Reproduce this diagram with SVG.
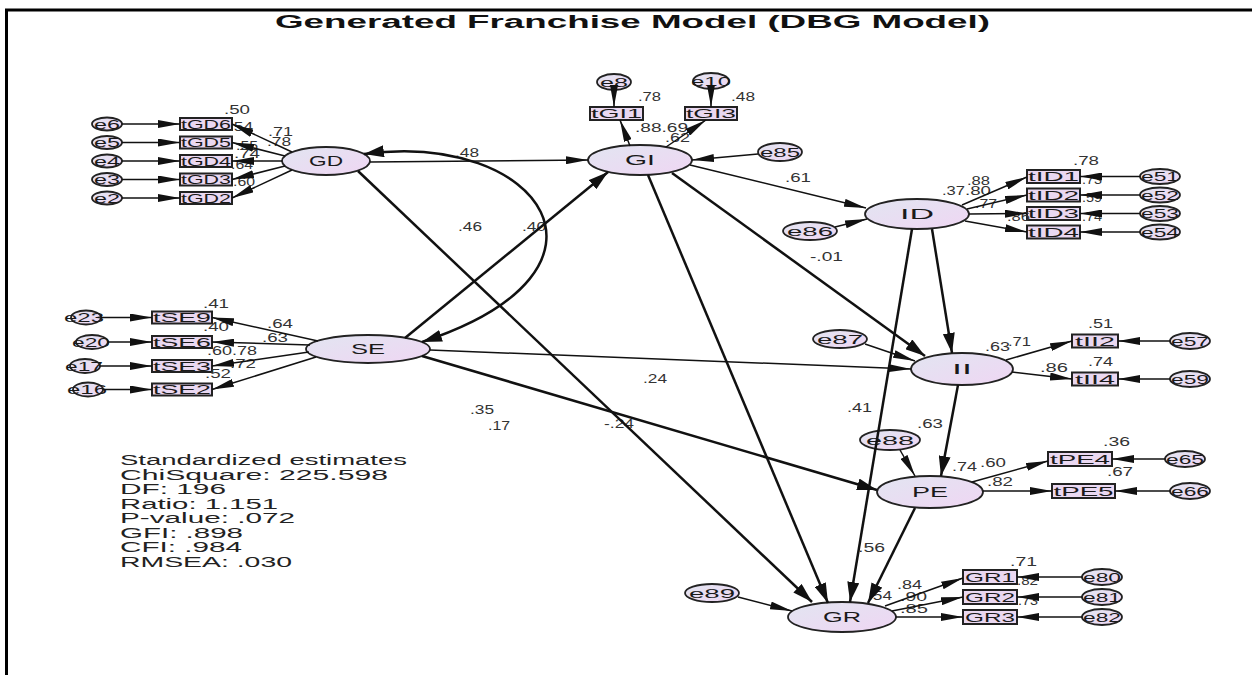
<svg xmlns="http://www.w3.org/2000/svg" width="1252" height="675" viewBox="0 0 1252 675">
<defs>
  <linearGradient id="lav" x1="0" y1="0" x2="1" y2="1">
    <stop offset="0" stop-color="#e2e5f1"/>
    <stop offset="1" stop-color="#efd6f3"/>
  </linearGradient>
  <marker id="ha" viewBox="0 0 22 8" refX="22" refY="4" markerWidth="22" markerHeight="8" markerUnits="userSpaceOnUse" orient="auto">
    <path d="M0,0 L22,4 L0,8 z" fill="#111"/>
  </marker>
  <marker id="hb" viewBox="0 0 20 12" refX="20" refY="6" markerWidth="20" markerHeight="12" markerUnits="userSpaceOnUse" orient="auto">
    <path d="M0,0 L20,6 L0,12 z" fill="#111"/>
  </marker>
  <marker id="hc" viewBox="0 0 20 12" refX="20" refY="6" markerWidth="20" markerHeight="12" markerUnits="userSpaceOnUse" orient="auto-start-reverse">
    <path d="M0,0 L20,6 L0,12 z" fill="#111"/>
  </marker>
</defs>
<style>
  .lat { fill: url(#lav); stroke: #222; stroke-width: 1.8; }
  .err { fill: url(#lav); stroke: #222; stroke-width: 1.8; }
  .obs { fill: #ead8f1; stroke: #222; stroke-width: 2; }
  text { font-family: "Liberation Sans", Arial, sans-serif; fill: #1a1a1a; }
  .nl { font-size: 15px; text-anchor: middle; }
  .el { font-size: 12px; text-anchor: middle; }
  .bl { font-size: 13px; text-anchor: middle; }
  .lb { font-size: 12px; fill: #333; }
  .st { font-size: 14px; fill: #222; }
  .ttl { font-size: 18px; font-weight: bold; fill: #111; }
  .thin { stroke: #111; stroke-width: 1.5; fill: none; marker-end: url(#ha); }
  .thick { stroke: #111; stroke-width: 2.5; fill: none; marker-end: url(#hb); }
  .frame { stroke: #000; stroke-width: 3; fill: none; }
</style>

<rect width="1252" height="675" fill="#fff"/>
<path class="frame" d="M6.5,675 V10 H1252"/>
<text class="ttl" x="275" y="28" textLength="715" lengthAdjust="spacingAndGlyphs">Generated Franchise Model (DBG Model)</text>

<!-- latent constructs -->
<g id="GD"><ellipse class="lat" cx="326" cy="161" rx="44" ry="14"/><text class="nl" x="326" y="166" textLength="34" lengthAdjust="spacingAndGlyphs">GD</text></g>
<g id="GI"><ellipse class="lat" cx="640" cy="160" rx="52" ry="15"/><text class="nl" x="640" y="165" textLength="30" lengthAdjust="spacingAndGlyphs">GI</text></g>
<g id="SE"><ellipse class="lat" cx="368" cy="349" rx="62" ry="14"/><text class="nl" x="368" y="354" textLength="34" lengthAdjust="spacingAndGlyphs">SE</text></g>
<g id="ID"><ellipse class="lat" cx="917" cy="214" rx="52" ry="15"/><text class="nl" x="917" y="219" textLength="34" lengthAdjust="spacingAndGlyphs">ID</text></g>
<g id="II"><ellipse class="lat" cx="962" cy="369" rx="51" ry="16"/><text class="nl" x="962" y="374" textLength="20" lengthAdjust="spacingAndGlyphs">II</text></g>
<g id="PE"><ellipse class="lat" cx="930" cy="492" rx="53" ry="16"/><text class="nl" x="930" y="497" textLength="36" lengthAdjust="spacingAndGlyphs">PE</text></g>
<g id="GR"><ellipse class="lat" cx="842" cy="617" rx="54" ry="15"/><text class="nl" x="842" y="622" textLength="38" lengthAdjust="spacingAndGlyphs">GR</text></g>

<!-- structural residuals -->
<g id="e85"><ellipse class="err" cx="780" cy="152" rx="22" ry="9"/><text class="el" x="780" y="157" textLength="40" lengthAdjust="spacingAndGlyphs">e85</text></g>
<g id="e86"><ellipse class="err" cx="810" cy="231" rx="27" ry="9"/><text class="el" x="810" y="236" textLength="46" lengthAdjust="spacingAndGlyphs">e86</text></g>
<g id="e87"><ellipse class="err" cx="840" cy="339" rx="27" ry="9"/><text class="el" x="840" y="344" textLength="46" lengthAdjust="spacingAndGlyphs">e87</text></g>
<g id="e88"><ellipse class="err" cx="890" cy="440" rx="30" ry="10"/><text class="el" x="890" y="445" textLength="48" lengthAdjust="spacingAndGlyphs">e88</text></g>
<g id="e89"><ellipse class="err" cx="712" cy="593" rx="27" ry="9"/><text class="el" x="712" y="598" textLength="46" lengthAdjust="spacingAndGlyphs">e89</text></g>

<!-- GD indicators -->
<g id="tGD6"><rect class="obs" x="180" y="118" width="52" height="12"/><text class="bl" x="206" y="128.5" textLength="50" lengthAdjust="spacingAndGlyphs">tGD6</text></g>
<g id="tGD5"><rect class="obs" x="180" y="136.5" width="52" height="12"/><text class="bl" x="206" y="147" textLength="50" lengthAdjust="spacingAndGlyphs">tGD5</text></g>
<g id="tGD4"><rect class="obs" x="180" y="155" width="52" height="12"/><text class="bl" x="206" y="165.5" textLength="50" lengthAdjust="spacingAndGlyphs">tGD4</text></g>
<g id="tGD3"><rect class="obs" x="180" y="173.5" width="52" height="12"/><text class="bl" x="206" y="184" textLength="50" lengthAdjust="spacingAndGlyphs">tGD3</text></g>
<g id="tGD2"><rect class="obs" x="180" y="192" width="52" height="12"/><text class="bl" x="206" y="202.5" textLength="50" lengthAdjust="spacingAndGlyphs">tGD2</text></g>
<g id="e6"><ellipse class="err" cx="107" cy="124" rx="15" ry="6.5"/><text class="el" x="107" y="128.5" textLength="26" lengthAdjust="spacingAndGlyphs">e6</text></g>
<g id="e5"><ellipse class="err" cx="107" cy="142.5" rx="15" ry="6.5"/><text class="el" x="107" y="147" textLength="26" lengthAdjust="spacingAndGlyphs">e5</text></g>
<g id="e4"><ellipse class="err" cx="107" cy="161" rx="15" ry="6.5"/><text class="el" x="107" y="165.5" textLength="26" lengthAdjust="spacingAndGlyphs">e4</text></g>
<g id="e3"><ellipse class="err" cx="107" cy="179.5" rx="15" ry="6.5"/><text class="el" x="107" y="184" textLength="26" lengthAdjust="spacingAndGlyphs">e3</text></g>
<g id="e2"><ellipse class="err" cx="107" cy="198" rx="15" ry="6.5"/><text class="el" x="107" y="202.5" textLength="26" lengthAdjust="spacingAndGlyphs">e2</text></g>

<!-- GI indicators -->
<g id="tGI1"><rect class="obs" x="590" y="107" width="53" height="13"/><text class="bl" x="616.5" y="118" textLength="51" lengthAdjust="spacingAndGlyphs">tGI1</text></g>
<g id="tGI3"><rect class="obs" x="685" y="107" width="52" height="13"/><text class="bl" x="711" y="118" textLength="50" lengthAdjust="spacingAndGlyphs">tGI3</text></g>
<g id="e8"><ellipse class="err" cx="614" cy="82" rx="17" ry="8"/><text class="el" x="614" y="86.5" textLength="28" lengthAdjust="spacingAndGlyphs">e8</text></g>
<g id="e10"><ellipse class="err" cx="711" cy="81" rx="18" ry="8"/><text class="el" x="711" y="85.5" textLength="40" lengthAdjust="spacingAndGlyphs">e10</text></g>

<!-- SE indicators -->
<g id="tSE9"><rect class="obs" x="152" y="311.5" width="60" height="12"/><text class="bl" x="182" y="322" textLength="58" lengthAdjust="spacingAndGlyphs">tSE9</text></g>
<g id="tSE6"><rect class="obs" x="152" y="336" width="60" height="12"/><text class="bl" x="182" y="346.5" textLength="58" lengthAdjust="spacingAndGlyphs">tSE6</text></g>
<g id="tSE3"><rect class="obs" x="152" y="360" width="60" height="12"/><text class="bl" x="182" y="370.5" textLength="58" lengthAdjust="spacingAndGlyphs">tSE3</text></g>
<g id="tSE2"><rect class="obs" x="152" y="383.5" width="60" height="12"/><text class="bl" x="182" y="394" textLength="58" lengthAdjust="spacingAndGlyphs">tSE2</text></g>
<g id="e23"><ellipse class="err" cx="86" cy="317.5" rx="15" ry="7"/><text class="el" x="84" y="322" textLength="40" lengthAdjust="spacingAndGlyphs">e23</text></g>
<g id="e20"><ellipse class="err" cx="92" cy="342" rx="16" ry="7"/><text class="el" x="91" y="346.5" textLength="38" lengthAdjust="spacingAndGlyphs">e20</text></g>
<g id="e17"><ellipse class="err" cx="85" cy="366" rx="15" ry="7"/><text class="el" x="84" y="370.5" textLength="38" lengthAdjust="spacingAndGlyphs">e17</text></g>
<g id="e16"><ellipse class="err" cx="88" cy="389.5" rx="15" ry="7"/><text class="el" x="87" y="394" textLength="40" lengthAdjust="spacingAndGlyphs">e16</text></g>

<!-- ID indicators -->
<g id="tID1"><rect class="obs" x="1027" y="170" width="53" height="13"/><text class="bl" x="1053.5" y="181" textLength="51" lengthAdjust="spacingAndGlyphs">tID1</text></g>
<g id="tID2"><rect class="obs" x="1027" y="188.5" width="53" height="13"/><text class="bl" x="1053.5" y="199.5" textLength="51" lengthAdjust="spacingAndGlyphs">tID2</text></g>
<g id="tID3"><rect class="obs" x="1027" y="207" width="53" height="13"/><text class="bl" x="1053.5" y="218" textLength="51" lengthAdjust="spacingAndGlyphs">tID3</text></g>
<g id="tID4"><rect class="obs" x="1027" y="225.5" width="53" height="13"/><text class="bl" x="1053.5" y="236.5" textLength="51" lengthAdjust="spacingAndGlyphs">tID4</text></g>
<g id="e51"><ellipse class="err" cx="1160" cy="176.5" rx="20" ry="7.5"/><text class="el" x="1160" y="181" textLength="38" lengthAdjust="spacingAndGlyphs">e51</text></g>
<g id="e52"><ellipse class="err" cx="1160" cy="195" rx="20" ry="7.5"/><text class="el" x="1160" y="199.5" textLength="38" lengthAdjust="spacingAndGlyphs">e52</text></g>
<g id="e53"><ellipse class="err" cx="1160" cy="213.5" rx="20" ry="7.5"/><text class="el" x="1160" y="218" textLength="38" lengthAdjust="spacingAndGlyphs">e53</text></g>
<g id="e54"><ellipse class="err" cx="1160" cy="232" rx="20" ry="7.5"/><text class="el" x="1160" y="236.5" textLength="38" lengthAdjust="spacingAndGlyphs">e54</text></g>

<!-- II indicators -->
<g id="tII2"><rect class="obs" x="1072" y="334.5" width="46" height="13"/><text class="bl" x="1095" y="345.5" textLength="40" lengthAdjust="spacingAndGlyphs">tII2</text></g>
<g id="tII4"><rect class="obs" x="1072" y="372.5" width="46" height="13"/><text class="bl" x="1095" y="383.5" textLength="40" lengthAdjust="spacingAndGlyphs">tII4</text></g>
<g id="e57"><ellipse class="err" cx="1190" cy="341" rx="20" ry="8"/><text class="el" x="1190" y="345.5" textLength="38" lengthAdjust="spacingAndGlyphs">e57</text></g>
<g id="e59"><ellipse class="err" cx="1190" cy="379" rx="20" ry="8"/><text class="el" x="1190" y="383.5" textLength="38" lengthAdjust="spacingAndGlyphs">e59</text></g>

<!-- PE indicators -->
<g id="tPE4"><rect class="obs" x="1048" y="452" width="64" height="14"/><text class="bl" x="1080" y="463.5" textLength="60" lengthAdjust="spacingAndGlyphs">tPE4</text></g>
<g id="tPE5"><rect class="obs" x="1052" y="484" width="63" height="14"/><text class="bl" x="1083.5" y="495.5" textLength="60" lengthAdjust="spacingAndGlyphs">tPE5</text></g>
<g id="e65"><ellipse class="err" cx="1185" cy="459" rx="20" ry="8"/><text class="el" x="1185" y="463.5" textLength="38" lengthAdjust="spacingAndGlyphs">e65</text></g>
<g id="e66"><ellipse class="err" cx="1190" cy="491" rx="20" ry="8"/><text class="el" x="1190" y="495.5" textLength="38" lengthAdjust="spacingAndGlyphs">e66</text></g>

<!-- GR indicators -->
<g id="GR1"><rect class="obs" x="963" y="570" width="54" height="14"/><text class="bl" x="990" y="581.5" textLength="50" lengthAdjust="spacingAndGlyphs">GR1</text></g>
<g id="GR2"><rect class="obs" x="963" y="590" width="54" height="14"/><text class="bl" x="990" y="601.5" textLength="50" lengthAdjust="spacingAndGlyphs">GR2</text></g>
<g id="GR3"><rect class="obs" x="963" y="610" width="54" height="14"/><text class="bl" x="990" y="621.5" textLength="50" lengthAdjust="spacingAndGlyphs">GR3</text></g>
<g id="e80"><ellipse class="err" cx="1102" cy="577" rx="20" ry="8"/><text class="el" x="1102" y="581.5" textLength="38" lengthAdjust="spacingAndGlyphs">e80</text></g>
<g id="e81"><ellipse class="err" cx="1102" cy="597" rx="20" ry="8"/><text class="el" x="1102" y="601.5" textLength="38" lengthAdjust="spacingAndGlyphs">e81</text></g>
<g id="e82"><ellipse class="err" cx="1102" cy="617" rx="20" ry="8"/><text class="el" x="1102" y="621.5" textLength="38" lengthAdjust="spacingAndGlyphs">e82</text></g>

<!-- estimates -->
<g id="labels">
  <text class="lb" x="224" y="114" textLength="26" lengthAdjust="spacingAndGlyphs">.50</text>
  <text class="lb" x="229" y="131" textLength="24" lengthAdjust="spacingAndGlyphs">.54</text>
  <text class="lb" x="268" y="136" textLength="25" lengthAdjust="spacingAndGlyphs">.71</text>
  <text class="lb" x="267" y="146" textLength="24" lengthAdjust="spacingAndGlyphs">.78</text>
  <text class="lb" x="236" y="150" textLength="22" lengthAdjust="spacingAndGlyphs">.55</text>
  <text class="lb" x="234" y="158" textLength="26" lengthAdjust="spacingAndGlyphs">.74</text>
  <text class="lb" x="231" y="169" textLength="22" lengthAdjust="spacingAndGlyphs">.64</text>
  <text class="lb" x="233" y="186" textLength="22" lengthAdjust="spacingAndGlyphs">.60</text>
  <text class="lb" x="455" y="157" textLength="24" lengthAdjust="spacingAndGlyphs">.48</text>
  <text class="lb" x="458" y="231" textLength="24" lengthAdjust="spacingAndGlyphs">.46</text>
  <text class="lb" x="522" y="231" textLength="24" lengthAdjust="spacingAndGlyphs">.40</text>
  <text class="lb" x="638" y="101" textLength="23" lengthAdjust="spacingAndGlyphs">.78</text>
  <text class="lb" x="731" y="101" textLength="24" lengthAdjust="spacingAndGlyphs">.48</text>
  <text class="lb" x="635" y="132" textLength="53" lengthAdjust="spacingAndGlyphs">.88.69</text>
  <text class="lb" x="665" y="142" textLength="25" lengthAdjust="spacingAndGlyphs">.62</text>
  <text class="lb" x="785" y="182" textLength="26" lengthAdjust="spacingAndGlyphs">.61</text>
  <text class="lb" x="810" y="261" textLength="33" lengthAdjust="spacingAndGlyphs">-.01</text>
  <text class="lb" x="967" y="185" textLength="23" lengthAdjust="spacingAndGlyphs">.88</text>
  <text class="lb" x="942" y="195" textLength="23" lengthAdjust="spacingAndGlyphs">.37</text>
  <text class="lb" x="965" y="195" textLength="26" lengthAdjust="spacingAndGlyphs">.80</text>
  <text class="lb" x="975" y="208" textLength="22" lengthAdjust="spacingAndGlyphs">.77</text>
  <text class="lb" x="1007" y="221" textLength="23" lengthAdjust="spacingAndGlyphs">.86</text>
  <text class="lb" x="1073" y="165" textLength="26" lengthAdjust="spacingAndGlyphs">.78</text>
  <text class="lb" x="1082" y="184" textLength="20" lengthAdjust="spacingAndGlyphs">.73</text>
  <text class="lb" x="1082" y="202" textLength="20" lengthAdjust="spacingAndGlyphs">.59</text>
  <text class="lb" x="1082" y="221" textLength="20" lengthAdjust="spacingAndGlyphs">.74</text>
  <text class="lb" x="203" y="308" textLength="26" lengthAdjust="spacingAndGlyphs">.41</text>
  <text class="lb" x="267" y="328" textLength="26" lengthAdjust="spacingAndGlyphs">.64</text>
  <text class="lb" x="203" y="331" textLength="26" lengthAdjust="spacingAndGlyphs">.40</text>
  <text class="lb" x="262" y="342" textLength="26" lengthAdjust="spacingAndGlyphs">.63</text>
  <text class="lb" x="207" y="355" textLength="25" lengthAdjust="spacingAndGlyphs">.60</text>
  <text class="lb" x="232" y="355" textLength="25" lengthAdjust="spacingAndGlyphs">.78</text>
  <text class="lb" x="230" y="368" textLength="26" lengthAdjust="spacingAndGlyphs">.72</text>
  <text class="lb" x="205" y="378" textLength="26" lengthAdjust="spacingAndGlyphs">.52</text>
  <text class="lb" x="643" y="383" textLength="24" lengthAdjust="spacingAndGlyphs">.24</text>
  <text class="lb" x="470" y="414" textLength="24" lengthAdjust="spacingAndGlyphs">.35</text>
  <text class="lb" x="488" y="430" textLength="22" lengthAdjust="spacingAndGlyphs">.17</text>
  <text class="lb" x="604" y="428" textLength="30" lengthAdjust="spacingAndGlyphs">-.24</text>
  <text class="lb" x="847" y="412" textLength="25" lengthAdjust="spacingAndGlyphs">.41</text>
  <text class="lb" x="917" y="428" textLength="26" lengthAdjust="spacingAndGlyphs">.63</text>
  <text class="lb" x="985" y="351" textLength="25" lengthAdjust="spacingAndGlyphs">.63</text>
  <text class="lb" x="1008" y="346" textLength="23" lengthAdjust="spacingAndGlyphs">.71</text>
  <text class="lb" x="1040" y="372" textLength="28" lengthAdjust="spacingAndGlyphs">.86</text>
  <text class="lb" x="1088" y="328" textLength="25" lengthAdjust="spacingAndGlyphs">.51</text>
  <text class="lb" x="1088" y="366" textLength="25" lengthAdjust="spacingAndGlyphs">.74</text>
  <text class="lb" x="952" y="471" textLength="25" lengthAdjust="spacingAndGlyphs">.74</text>
  <text class="lb" x="980" y="467" textLength="26" lengthAdjust="spacingAndGlyphs">.60</text>
  <text class="lb" x="987" y="486" textLength="26" lengthAdjust="spacingAndGlyphs">.82</text>
  <text class="lb" x="1103" y="446" textLength="27" lengthAdjust="spacingAndGlyphs">.36</text>
  <text class="lb" x="1107" y="476" textLength="26" lengthAdjust="spacingAndGlyphs">.67</text>
  <text class="lb" x="858" y="552" textLength="27" lengthAdjust="spacingAndGlyphs">.56</text>
  <text class="lb" x="897" y="589" textLength="25" lengthAdjust="spacingAndGlyphs">.84</text>
  <text class="lb" x="868" y="600" textLength="24" lengthAdjust="spacingAndGlyphs">.54</text>
  <text class="lb" x="900" y="601" textLength="27" lengthAdjust="spacingAndGlyphs">.90</text>
  <text class="lb" x="900" y="613" textLength="28" lengthAdjust="spacingAndGlyphs">.85</text>
  <text class="lb" x="1010" y="566" textLength="27" lengthAdjust="spacingAndGlyphs">.71</text>
  <text class="lb" x="1017" y="585" textLength="21" lengthAdjust="spacingAndGlyphs">.82</text>
  <text class="lb" x="1018" y="605" textLength="20" lengthAdjust="spacingAndGlyphs">.73</text>
</g>

<!-- paths -->
<g id="connectors">
  <!-- error terms to GD indicators -->
  <line class="thin" x1="122" y1="124" x2="180" y2="124"/>
  <line class="thin" x1="122" y1="142.5" x2="180" y2="142.5"/>
  <line class="thin" x1="122" y1="161" x2="180" y2="161"/>
  <line class="thin" x1="122" y1="179.5" x2="180" y2="179.5"/>
  <line class="thin" x1="122" y1="198" x2="180" y2="198"/>
  <!-- GD loadings -->
  <line class="thin" x1="292" y1="152" x2="232" y2="124"/>
  <line class="thin" x1="285" y1="156" x2="232" y2="142.5"/>
  <line class="thin" x1="282" y1="161" x2="232" y2="161"/>
  <line class="thin" x1="285" y1="166" x2="232" y2="179.5"/>
  <line class="thin" x1="292" y1="170" x2="232" y2="198"/>
  <!-- error terms to SE indicators -->
  <line class="thin" x1="101" y1="317.5" x2="152" y2="317.5"/>
  <line class="thin" x1="108" y1="342" x2="152" y2="342"/>
  <line class="thin" x1="100" y1="366" x2="152" y2="366"/>
  <line class="thin" x1="103" y1="389.5" x2="152" y2="389.5"/>
  <!-- SE loadings -->
  <line class="thin" x1="318" y1="341" x2="212" y2="317.5"/>
  <line class="thin" x1="310" y1="345" x2="212" y2="342"/>
  <line class="thin" x1="309" y1="352" x2="212" y2="366"/>
  <line class="thin" x1="316" y1="357" x2="212" y2="389.5"/>
  <!-- GI measurement -->
  <line class="thin" x1="614" y1="90" x2="614" y2="107"/>
  <line class="thin" x1="711" y1="89" x2="711" y2="107"/>
  <line class="thin" x1="630" y1="146" x2="620" y2="120"/>
  <line class="thin" x1="666" y1="147" x2="706" y2="120"/>
  <line class="thin" x1="758" y1="154" x2="692" y2="160"/>
  <!-- ID measurement -->
  <line class="thin" x1="835" y1="227" x2="867" y2="219"/>
  <line class="thin" x1="962" y1="205" x2="1027" y2="177"/>
  <line class="thin" x1="967" y1="209" x2="1027" y2="195"/>
  <line class="thin" x1="969" y1="214" x2="1027" y2="213.5"/>
  <line class="thin" x1="965" y1="221" x2="1027" y2="232"/>
  <line class="thin" x1="1140" y1="176.5" x2="1080" y2="176.5"/>
  <line class="thin" x1="1140" y1="195" x2="1080" y2="195"/>
  <line class="thin" x1="1140" y1="213.5" x2="1080" y2="213.5"/>
  <line class="thin" x1="1140" y1="232" x2="1080" y2="232"/>
  <!-- II measurement -->
  <line class="thin" x1="865" y1="344" x2="915" y2="361"/>
  <line class="thin" x1="1006" y1="360" x2="1072" y2="341"/>
  <line class="thin" x1="1012" y1="372" x2="1072" y2="379"/>
  <line class="thin" x1="1170" y1="341" x2="1118" y2="341"/>
  <line class="thin" x1="1170" y1="379" x2="1118" y2="379"/>
  <!-- PE measurement -->
  <line class="thin" x1="900" y1="450" x2="915" y2="476"/>
  <line class="thin" x1="972" y1="482" x2="1048" y2="461"/>
  <line class="thin" x1="983" y1="491" x2="1052" y2="491"/>
  <line class="thin" x1="1165" y1="459" x2="1112" y2="459"/>
  <line class="thin" x1="1170" y1="491" x2="1115" y2="491"/>
  <!-- GR measurement -->
  <line class="thin" x1="738" y1="597" x2="792" y2="611"/>
  <line class="thin" x1="885" y1="606" x2="963" y2="578"/>
  <line class="thin" x1="892" y1="611" x2="963" y2="597"/>
  <line class="thin" x1="896" y1="617" x2="963" y2="617"/>
  <line class="thin" x1="1082" y1="577" x2="1017" y2="577"/>
  <line class="thin" x1="1082" y1="597" x2="1017" y2="597"/>
  <line class="thin" x1="1082" y1="617" x2="1017" y2="617"/>
  <!-- structural paths -->
  <line class="thin" x1="370" y1="162" x2="588" y2="160"/>
  <path class="thick" d="M364,154 C540,130 640,270 422,342" marker-start="url(#hc)" marker-end="url(#hc)"/>
  <line class="thick" x1="405" y1="338" x2="608" y2="172"/>
  <line class="thin" x1="430" y1="350" x2="911" y2="369"/>
  <line class="thick" x1="422" y1="356" x2="877" y2="490"/>
  <line class="thick" x1="358" y1="171" x2="812" y2="602"/>
  <line class="thick" x1="648" y1="175" x2="828" y2="603"/>
  <line class="thin" x1="690" y1="165" x2="866" y2="208"/>
  <line class="thick" x1="672" y1="173" x2="925" y2="356"/>
  <line class="thick" x1="932" y1="229" x2="952" y2="353"/>
  <line class="thick" x1="912" y1="229" x2="850" y2="602"/>
  <line class="thick" x1="958" y1="385" x2="941" y2="476"/>
  <line class="thick" x1="915" y1="508" x2="868" y2="603"/>
</g>

<!-- fit summary -->
<g id="fit">
  <text class="st" x="120" y="465" textLength="287" lengthAdjust="spacingAndGlyphs">Standardized estimates</text>
  <text class="st" x="120" y="479.5" textLength="268" lengthAdjust="spacingAndGlyphs">ChiSquare: 225.598</text>
  <text class="st" x="120" y="494" textLength="106" lengthAdjust="spacingAndGlyphs">DF: 196</text>
  <text class="st" x="120" y="508.5" textLength="158" lengthAdjust="spacingAndGlyphs">Ratio: 1.151</text>
  <text class="st" x="120" y="523" textLength="175" lengthAdjust="spacingAndGlyphs">P-value: .072</text>
  <text class="st" x="120" y="537.5" textLength="123" lengthAdjust="spacingAndGlyphs">GFI: .898</text>
  <text class="st" x="120" y="552" textLength="122" lengthAdjust="spacingAndGlyphs">CFI: .984</text>
  <text class="st" x="120" y="566.5" textLength="172" lengthAdjust="spacingAndGlyphs">RMSEA: .030</text>
</g>
</svg>
